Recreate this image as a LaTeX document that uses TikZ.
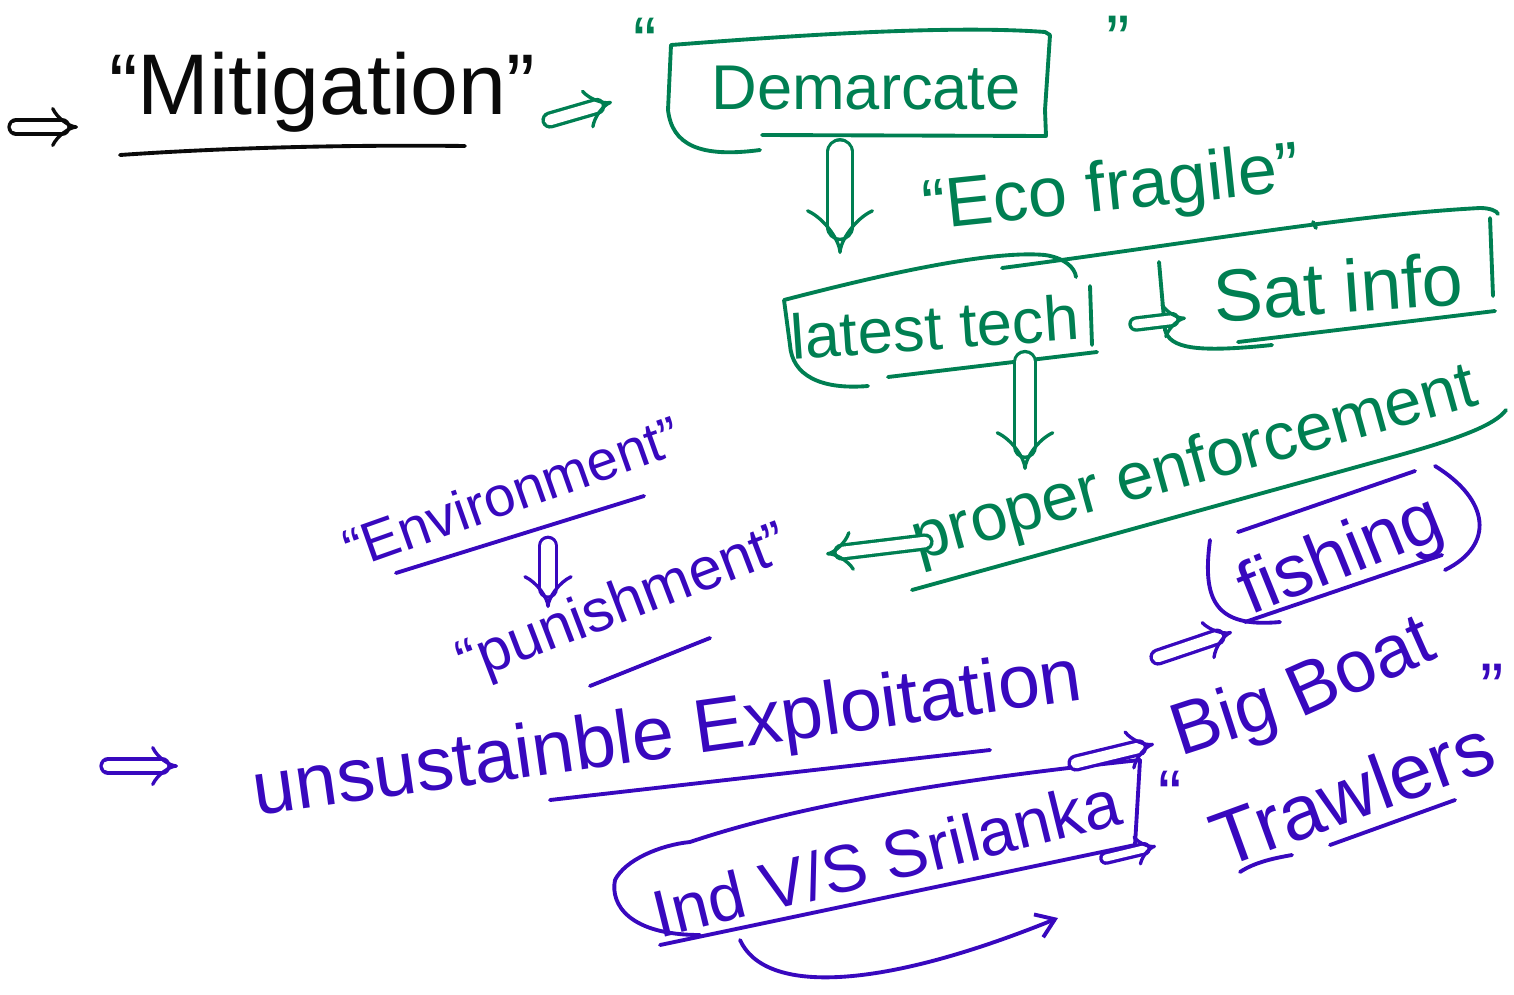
\documentclass[tikz,border=0pt]{standalone}
\usepackage{fontspec}
\setmainfont{Liberation Sans}
\usetikzlibrary{arrows.meta}
\definecolor{inkg}{RGB}{0,127,82}
\definecolor{inkp}{RGB}{56,8,190}
\definecolor{inkb}{RGB}{10,10,10}
\begin{document}
\begin{tikzpicture}[x=0.02cm,y=-0.02cm,
  ink/.style={line width=2.2pt,line cap=round,line join=round},
  gline/.style={ink,draw=inkg},
  pline/.style={ink,draw=inkp},
  bline/.style={ink,draw=inkb},
  darr/.style={line width=1.9pt,double distance=#1,line cap=round,-{Implies[]}},
  darr/.default=6pt,
  gtext/.style={text=inkg,inner sep=0pt},
  ptext/.style={text=inkp,inner sep=0pt},
  btext/.style={text=inkb,inner sep=0pt},
  fs/.style={font=\fontsize{#1}{#1}\selectfont}]
\useasboundingbox (0,0) rectangle (1514,994);

% ---------- black: Mitigation ----------
\coordinate (b1) at (16,127);
\coordinate (b2) at (78,127);
\draw[darr,draw=inkb] (b1) -- (b2);
\node[btext,fs=49] (mit) at (322,92) {“Mitigation”};
\draw[bline] (120,155) .. controls (250,146) and (380,145) .. (465,146);

% ---------- green: Demarcate ----------
\coordinate (g1) at (550,120);
\coordinate (g2) at (612,102);
\draw[darr,draw=inkg] (g1) -- (g2);
\node[gtext,fs=36] (dem) at (866,88) {Demarcate};
\node[gtext,fs=40] (demq1) at (645,42) {“};
\node[gtext,fs=40] (demq2) at (1118,40) {”};
\draw[gline] (760,150) .. controls (700,158) and (672,145) .. (668,110)
  -- (671,45) .. controls (800,35) and (950,25) .. (1045,32)
  -- (1050,35) -- (1045,110) -- (1046,136) -- (762,135);

% ---------- Eco fragile ----------
\coordinate (g3) at (840,152);
\coordinate (g4) at (840,254);
\draw[darr=12pt,draw=inkg] (g3) -- (g4);
\node[gtext,fs=40,rotate=6] (eco) at (1112,192) {“Eco fragile”};

% ---------- latest tech ----------
\node[gtext,fs=36,rotate=4] (tech) at (935,327) {latest tech};
\draw[gline] (868,386) .. controls (820,390) and (792,375) .. (790,345)
  -- (784,300) .. controls (880,275) and (990,250) .. (1045,255)
  .. controls (1065,258) and (1075,268) .. (1076,277);
\draw[gline] (1090,286) -- (1092,345);
\draw[gline] (888,377) -- (1097,352);

% ---------- Sat info ----------
\node[gtext,fs=42,rotate=4] (sat) at (1338,287) {Sat info};
\draw[gline] (1002,268) .. controls (1200,242) and (1350,215) .. (1480,208)
  .. controls (1490,208) and (1497,211) .. (1498,214);
\draw[gline] (1313,222) -- (1316,228);
\draw[gline] (1490,218) -- (1493,296);
\draw[gline] (1159,262) -- (1165,330) .. controls (1170,348) and (1195,353) .. (1272,345);
\draw[gline] (1238,342) -- (1495,311);
\coordinate (g5) at (1136,324);
\coordinate (g6) at (1186,318);
\draw[darr=5pt,draw=inkg] (g5) -- (g6);

% ---------- proper enforcement ----------
\coordinate (g7) at (1025,362);
\coordinate (g8) at (1025,470);
\draw[darr=10pt,draw=inkg] (g7) -- (g8);
\node[gtext,fs=38,rotate=15.5] (enf) at (1195,466) {proper enforcement};
\draw[gline] (912,590) -- (1400,455) .. controls (1460,438) and (1495,425) .. (1506,410);
\coordinate (g9) at (925,542);
\coordinate (g10) at (826,554);
\draw[darr,draw=inkg] (g9) -- (g10);

% ---------- purple: Environment / punishment ----------
\node[ptext,fs=32,rotate=19.5] (env) at (512,492) {“Environment”};
\draw[pline] (396,573) -- (644,496);
\coordinate (p1) at (548,546);
\coordinate (p2) at (548,608);
\draw[darr=8pt,draw=inkp] (p1) -- (p2);
\node[ptext,fs=34,rotate=21] (pun) at (624,606) {“punishment”};
\draw[pline] (590,686) -- (710,638);

% ---------- unsustainble Exploitation ----------
\coordinate (p3) at (108,766);
\coordinate (p4) at (178,766);
\draw[darr,draw=inkp] (p3) -- (p4);
\node[ptext,fs=43,rotate=8] (expl) at (668,738) {unsustainble Exploitation};
\draw[pline] (550,800) -- (990,750);

% ---------- fishing ----------
\coordinate (p5) at (1158,657);
\coordinate (p6) at (1232,632);
\draw[darr,draw=inkp] (p5) -- (p6);
\node[ptext,fs=42,rotate=22] (fish) at (1342,558) {fishing};
\draw[pline] (1238,532) -- (1415,471);
\draw[pline] (1435,466) .. controls (1490,500) and (1495,545) .. (1445,570);
\draw[pline] (1210,540) .. controls (1202,600) and (1215,628) .. (1280,622);
\draw[pline] (1245,622) -- (1442,555);

% ---------- Big Boat Trawlers ----------
\node[ptext,fs=42,rotate=18] (big) at (1225,722) {Big};
\node[ptext,fs=42,rotate=24] (boat) at (1360,665) {Boat};
\node[ptext,fs=44,rotate=20] (traw) at (1352,792) {Trawlers};
\node[ptext,fs=40] (twq1) at (1170,795) {“};
\node[ptext,fs=40] (twq2) at (1492,688) {”};
\draw[pline] (1330,845) -- (1455,800);
\draw[pline] (1240,872) .. controls (1255,862) and (1275,858) .. (1292,855);

% ---------- Ind V/S Srilanka ----------
\node[ptext,fs=38,rotate=13.8] (ind) at (886,858) {Ind V/S Srilanka};
\draw[pline] (690,842) .. controls (800,805) and (950,780) .. (1140,760);
\draw[pline] (1140,760) -- (1135,845);
\draw[pline] (700,935) .. controls (630,935) and (610,905) .. (615,880)
  .. controls (625,860) and (660,845) .. (690,842);
\draw[pline] (660,945) -- (1135,845);
\coordinate (p7) at (1076,763);
\coordinate (p8) at (1154,744);
\draw[darr,draw=inkp] (p7) -- (p8);
\coordinate (p9) at (1106,858);
\coordinate (p10) at (1156,846);
\draw[darr=4pt,draw=inkp] (p9) -- (p10);
\coordinate (p11) at (740,940);
\coordinate (p12) at (1058,918);
\draw[pline,-{Straight Barb[length=10pt,width=14pt]}] (p11) .. controls (765,995) and (880,990) .. (p12);
\end{tikzpicture}
\end{document}
